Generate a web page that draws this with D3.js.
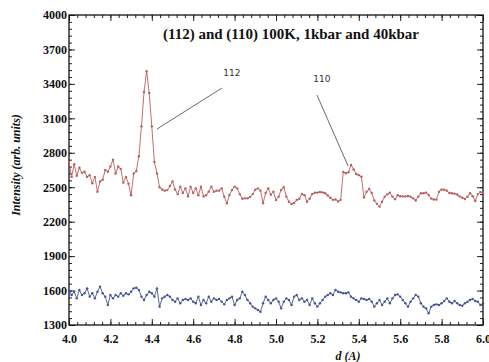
<!DOCTYPE html>
<html>
<head>
<meta charset="utf-8">
<script src="https://cdn.jsdelivr.net/npm/d3@7"></script>
<style>
  body { margin: 0; background: #fff; }
  svg { display: block; }
</style>
</head>
<body>
<div id="chart"></div>
<script>
// sampling grid of the scan (d in Angstrom)
var dStart = 4.0, dStep = 0.0125;

// 1 kbar scan (red)
var red1kbar = [2720,2590,2700,2600,2670,2625,2635,2590,2605,2535,2590,2460,2550,2565,2650,2635,2680,2740,2620,2680,
  2660,2540,2590,2530,2430,2620,2640,2770,3030,3330,3510,3320,3030,2720,2620,2500,2480,2470,2475,2510,
  2550,2480,2440,2505,2450,2490,2420,2505,2450,2490,2430,2505,2420,2430,2461,2505,2460,2470,2470,2490,
  2418,2360,2432,2476,2505,2490,2440,2400,2403,2403,2415,2440,2478,2490,2470,2360,2450,2490,2435,2461,
  2389,2418,2476,2500,2418,2374,2354,2362,2389,2400,2441,2430,2374,2400,2440,2452,2453,2458,2455,2448,
  2428,2408,2390,2393,2376,2390,2634,2622,2630,2694,2655,2615,2605,2592,2410,2460,2485,2450,2385,2355,
  2331,2374,2418,2438,2453,2418,2396,2430,2422,2420,2420,2424,2418,2403,2385,2418,2447,2447,2453,2432,
  2401,2393,2392,2460,2480,2478,2470,2450,2447,2444,2436,2420,2408,2398,2418,2448,2422,2380,2440,2458,2447];

// 40 kbar scan (blue)
var blue40kbar = [1605,1561,1590,1532,1605,1561,1576,1619,1547,1576,1532,1590,1634,1576,1547,1474,1561,1532,1561,1547,
  1576,1555,1576,1567,1590,1619,1625,1605,1547,1518,1561,1590,1576,1547,1619,1460,1532,1547,1561,1547,
  1518,1503,1532,1489,1518,1526,1518,1532,1503,1489,1547,1474,1518,1489,1547,1503,1532,1518,1526,1503,
  1480,1518,1532,1547,1474,1518,1532,1590,1561,1518,1489,1460,1445,1431,1416,1489,1547,1518,1489,1518,
  1532,1503,1445,1503,1532,1518,1474,1547,1561,1518,1532,1503,1518,1474,1532,1489,1460,1489,1518,1547,
  1561,1576,1561,1605,1590,1584,1576,1576,1584,1547,1532,1518,1503,1532,1526,1518,1526,1503,1460,1489,
  1518,1474,1503,1532,1489,1532,1561,1567,1547,1518,1489,1460,1503,1532,1561,1547,1489,1460,1445,1402,
  1460,1474,1480,1474,1489,1509,1532,1503,1489,1509,1489,1474,1468,1489,1503,1518,1526,1509,1503,1474,1489];

var yTicks = [1300,1600,1900,2200,2500,2800,3100,3400,3700,4000];
var xTicks = [4.0,4.2,4.4,4.6,4.8,5.0,5.2,5.4,5.6,5.8,6.0];

// peak labels: text, label position, arrow start, arrow end (data units)
var peakNames = ["112", "110"];
var peakLabelAt = [[4.787, 3470], [5.222, 3420]];
var peakLineFrom = [[4.739, 3364], [5.198, 3303]];
var peakLineTo = [[4.425, 3007], [5.348, 2685]];

var W = 489, H = 362;
var margin = {left: 69, right: 6, top: 15, bottom: 37};

var svg = d3.select("#chart").append("svg")
    .attr("width", W)
    .attr("height", H);

var x = d3.scaleLinear().domain([4.0, 6.0]).range([margin.left, W - margin.right]);
var y = d3.scaleLinear().domain([1300, 4000]).range([H - margin.bottom, margin.top]);

var serif = "'Liberation Serif', 'Times New Roman', serif";

function series(vals) {
    return vals.map(function (v, i) { return {d: dStart + i * dStep, v: v}; });
}

var line = d3.line()
    .x(function (p) { return x(p.d); })
    .y(function (p) { return y(p.v); });

var xMinor = d3.range(0, 51).map(function (i) { return 4 + i * 0.04; });
var yMinor = d3.range(0, 46).map(function (i) { return 1300 + i * 60; });

// minor ticks, all four sides
svg.append("g").attr("transform", "translate(0," + y(1300) + ")")
    .call(d3.axisBottom(x).tickValues(xMinor).tickSize(-3).tickFormat(""));
svg.append("g").attr("transform", "translate(0," + y(4000) + ")")
    .call(d3.axisTop(x).tickValues(xMinor).tickSize(-3).tickFormat(""));
svg.append("g").attr("transform", "translate(" + x(4) + ",0)")
    .call(d3.axisLeft(y).tickValues(yMinor).tickSize(-3).tickFormat(""));
svg.append("g").attr("transform", "translate(" + x(6) + ",0)")
    .call(d3.axisRight(y).tickValues(yMinor).tickSize(-3).tickFormat(""));

// major ticks
svg.append("g").attr("transform", "translate(0," + y(1300) + ")")
    .call(d3.axisBottom(x).tickValues(xTicks).tickSize(-6).tickPadding(9).tickFormat(d3.format(".1f")));
svg.append("g").attr("transform", "translate(0," + y(4000) + ")")
    .call(d3.axisTop(x).tickValues(xTicks).tickSize(-6).tickFormat(""));
svg.append("g").attr("transform", "translate(" + x(4) + ",0)")
    .call(d3.axisLeft(y).tickValues(yTicks).tickSize(-6).tickPadding(2).tickFormat(d3.format("d")));
svg.append("g").attr("transform", "translate(" + x(6) + ",0)")
    .call(d3.axisRight(y).tickValues(yTicks).tickSize(-6).tickFormat(""));

svg.selectAll(".domain").remove();
svg.selectAll(".tick line").attr("stroke", "#222").attr("stroke-width", 1);
svg.selectAll(".tick text")
    .attr("fill", "#111")
    .style("font-family", serif)
    .style("font-weight", "bold")
    .style("font-size", "12px");

// frame
svg.append("rect")
    .attr("x", x(4)).attr("y", y(4000))
    .attr("width", x(6) - x(4)).attr("height", y(1300) - y(4000))
    .attr("fill", "none").attr("stroke", "#111").attr("stroke-width", 1.3);

// data
var sets = [
    {vals: red1kbar, color: "#b8605f"},
    {vals: blue40kbar, color: "#46558f"}
];
sets.forEach(function (s) {
    var pts = series(s.vals);
    svg.append("path")
        .datum(pts)
        .attr("d", line)
        .attr("fill", "none")
        .attr("stroke", s.color)
        .attr("stroke-width", 0.9);
    svg.append("g").selectAll("circle")
        .data(pts)
        .enter()
        .append("circle")
        .attr("cx", function (p) { return x(p.d); })
        .attr("cy", function (p) { return y(p.v); })
        .attr("r", 1.2)
        .attr("fill", s.color);
});

// peak annotations
peakNames.forEach(function (name, i) {
    svg.append("line")
        .attr("x1", x(peakLineFrom[i][0])).attr("y1", y(peakLineFrom[i][1]))
        .attr("x2", x(peakLineTo[i][0])).attr("y2", y(peakLineTo[i][1]))
        .attr("stroke", "#444").attr("stroke-width", 0.8);
    svg.append("text")
        .attr("x", x(peakLabelAt[i][0])).attr("y", y(peakLabelAt[i][1]))
        .attr("text-anchor", "middle")
        .style("font-family", "'DejaVu Sans', sans-serif")
        .style("font-size", "9px")
        .attr("fill", "#333")
        .text(name);
});

// title
svg.append("text")
    .attr("x", 291).attr("y", 39)
    .attr("text-anchor", "middle")
    .style("font-family", serif)
    .style("font-weight", "bold")
    .style("font-size", "15px")
    .attr("fill", "#111")
    .text("(112) and (110) 100K, 1kbar and 40kbar");

// axis titles
svg.append("text")
    .attr("transform", "translate(20," + 165 + ") rotate(-90)")
    .attr("text-anchor", "middle")
    .style("font-family", serif)
    .style("font-weight", "bold")
    .style("font-style", "italic")
    .style("font-size", "12px")
    .attr("fill", "#111")
    .text("Intensity (arb. units)");

svg.append("text")
    .attr("x", 348).attr("y", 360)
    .attr("text-anchor", "middle")
    .style("font-family", serif)
    .style("font-weight", "bold")
    .style("font-style", "italic")
    .style("font-size", "12px")
    .attr("fill", "#111")
    .text("d (A)");
</script>
</body>
</html>
